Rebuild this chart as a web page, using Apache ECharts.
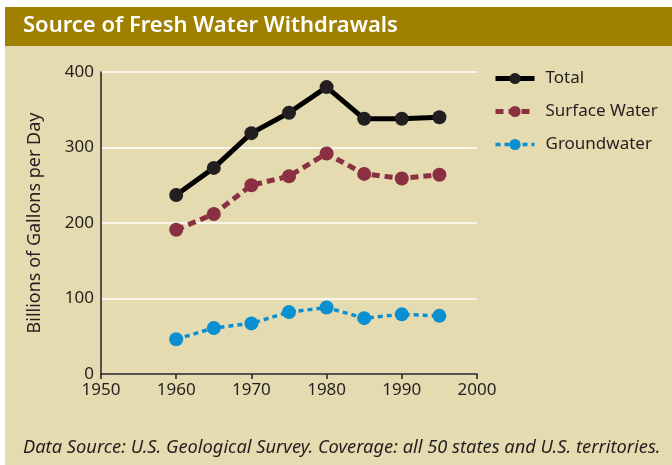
<!DOCTYPE html>
<html>
<head>
<meta charset="utf-8">
<script src="https://cdn.jsdelivr.net/npm/echarts@6/dist/echarts.min.js"></script>
<style>
  html, body { margin: 0; padding: 0; background: #ffffff; }
  #main { width: 672px; height: 465px; }
</style>
</head>
<body>
<div id="main"></div>
<script>
// data
var years = [1960, 1965, 1970, 1975, 1980, 1985, 1990, 1995];
var total = [237, 273, 319, 346, 380, 338, 338, 340];
var surfaceWater = [191, 212, 250, 262, 292, 265, 259, 264];
var groundwater = [46, 61, 67, 82, 88, 74, 79, 77];
var xTicks = [1950, 1960, 1970, 1980, 1990, 2000];
var yTicks = [0, 100, 200, 300, 400];

function pairs(vals) {
  return years.map(function (y, i) { return [y, vals[i]]; });
}

var chart = echarts.init(document.getElementById("main"));
var textColor = "#231f20";
var totalColor = "#231f20";
var surfaceColor = "#8a3042";
var groundColor = "#0a8fd0";

var option = {
  backgroundColor: "#ffffff",
  animation: false,
  textStyle: { fontFamily: "Noto Sans" },
  graphic: [
    // beige panel
    { type: "rect", left: 5, top: 7, shape: { width: 667, height: 458 }, style: { fill: "#e5dbb0" }, z: -10 },
    // title bar
    { type: "rect", left: 5, top: 7, shape: { width: 667, height: 39 }, style: { fill: "#a08000" }, z: -5 },
    {
      type: "text", left: 23, top: 15,
      style: { text: "Source of Fresh Water Withdrawals", fill: "#ffffff", font: "600 22px 'Noto Sans'" }
    },
    {
      type: "text", left: 23, top: 439,
      style: { text: "Data Source: U.S. Geological Survey. Coverage: all 50 states and U.S. territories.", fill: textColor, font: "italic 18.3px 'Noto Sans'" }
    }
  ],
  grid: { left: 101, right: 195, top: 72, bottom: 91 },
  legend: {
    left: 488, top: 65,
    orient: "vertical",
    itemWidth: 39, itemHeight: 14, itemGap: 16,
    textStyle: { fontSize: 17, color: textColor, padding: [0, 0, 0, 6] },
    data: [
      { name: "Total", lineStyle: { width: 5, color: "#000000" } },
      { name: "Surface Water", lineStyle: { width: 5, color: surfaceColor, type: [8, 5] } },
      { name: "Groundwater", lineStyle: { width: 3.5, color: groundColor, type: [5, 4] } }
    ]
  },
  xAxis: {
    type: "value",
    min: xTicks[0], max: xTicks[xTicks.length - 1], interval: 10,
    axisLine: { lineStyle: { color: textColor, width: 1.5 } },
    axisTick: { show: true, length: 5, lineStyle: { color: textColor, width: 1.5 } },
    axisLabel: { color: textColor, fontSize: 17, margin: 8, formatter: function (v) { return String(v); } },
    splitLine: { show: false }
  },
  yAxis: {
    type: "value",
    min: yTicks[0], max: yTicks[yTicks.length - 1], interval: 100,
    name: "Billions of Gallons per Day",
    nameLocation: "middle", nameGap: 57,
    nameTextStyle: { fontSize: 18, color: textColor },
    axisLine: { show: true, lineStyle: { color: textColor, width: 1.5 } },
    axisTick: { show: false },
    axisLabel: { color: textColor, fontSize: 17, margin: 7 },
    splitLine: { show: true, lineStyle: { color: "#ffffff", width: 1.5 } }
  },
  series: [
    {
      name: "Total", type: "line", data: pairs(total),
      symbol: "circle", symbolSize: 14,
      lineStyle: { color: "#000000", width: 5 },
      itemStyle: { color: totalColor },
      z: 3
    },
    {
      name: "Surface Water", type: "line", data: pairs(surfaceWater),
      symbol: "circle", symbolSize: 14,
      lineStyle: { color: surfaceColor, width: 5, type: [8, 5] },
      itemStyle: { color: surfaceColor },
      z: 2
    },
    {
      name: "Groundwater", type: "line", data: pairs(groundwater),
      symbol: "circle", symbolSize: 14,
      lineStyle: { color: groundColor, width: 3.5, type: [5, 4] },
      itemStyle: { color: groundColor },
      z: 1
    }
  ]
};

chart.setOption(option);
</script>
</body>
</html>
